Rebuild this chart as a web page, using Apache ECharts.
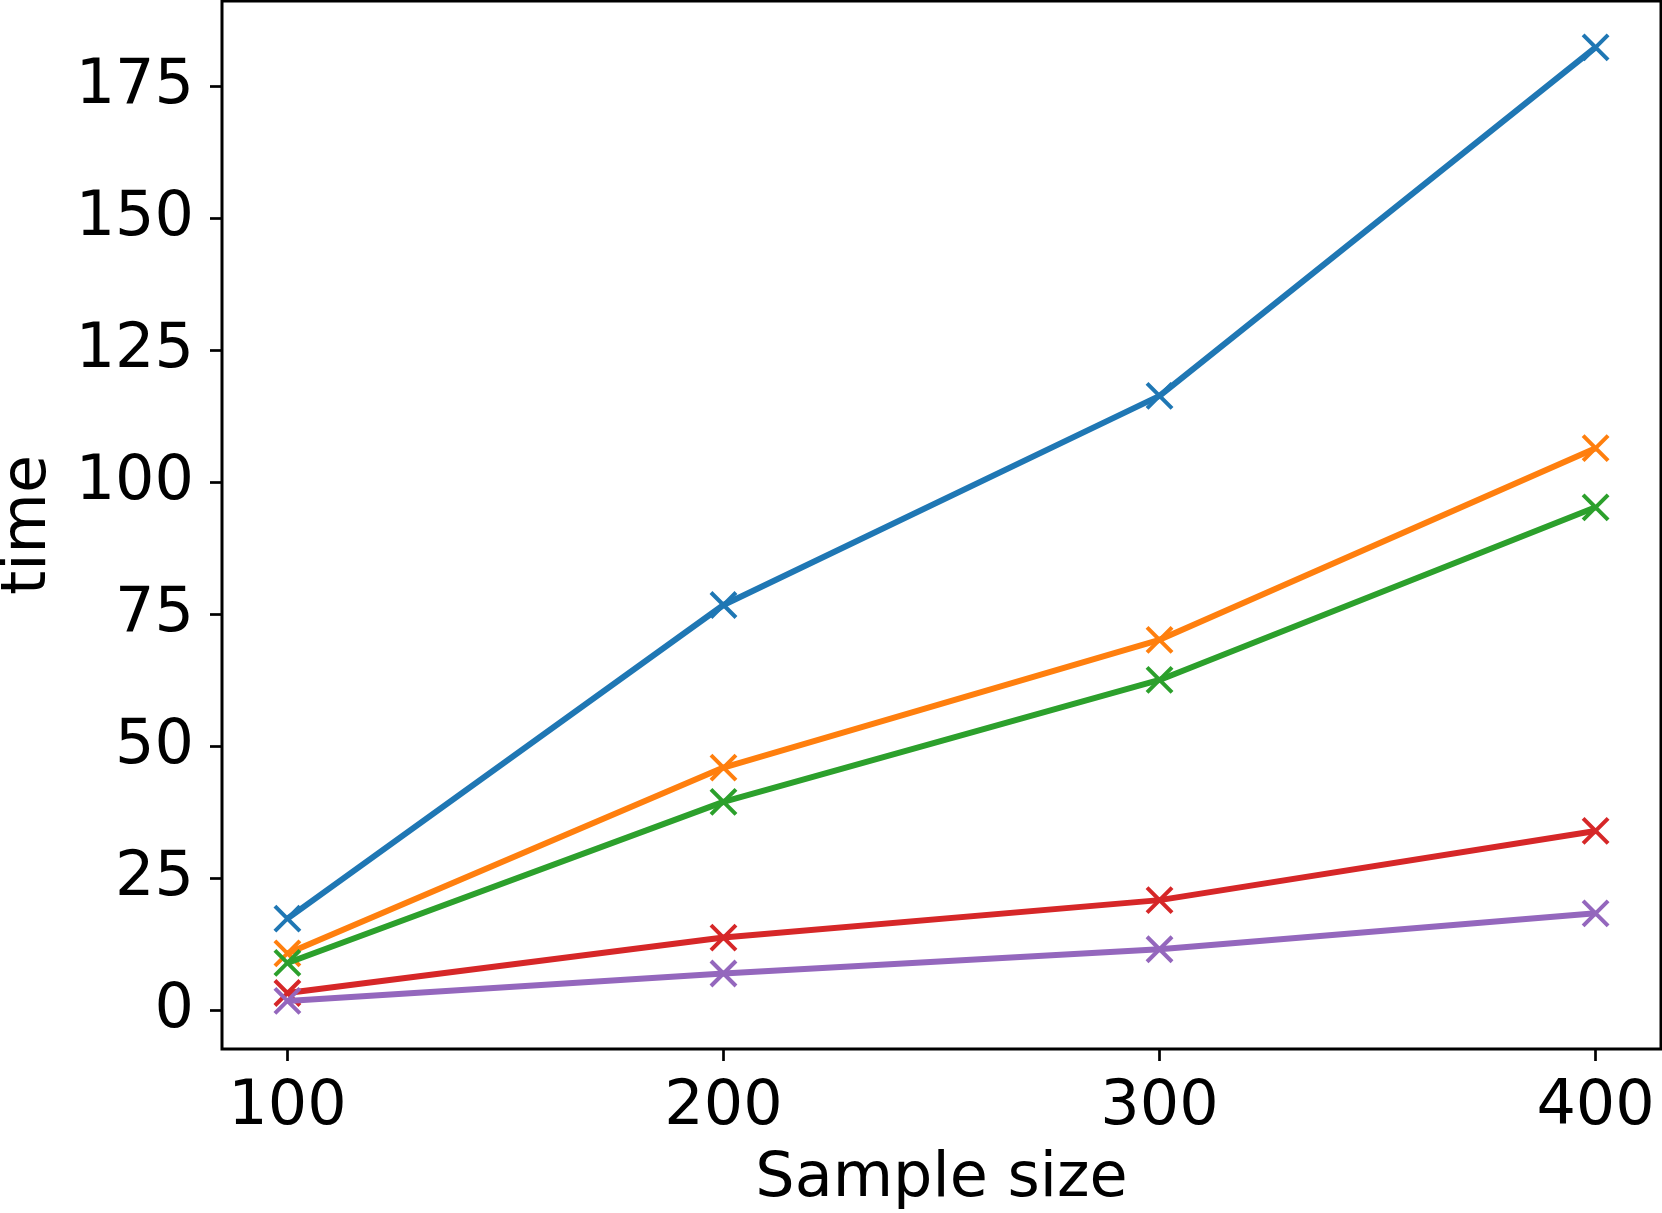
<!DOCTYPE html>
<html>
<head>
<meta charset="utf-8">
<script src="https://cdn.jsdelivr.net/npm/echarts@6/dist/echarts.min.js"></script>
<style>
html,body{margin:0;padding:0;background:#fff;}
#c{width:1662px;height:1213px;}
</style>
</head>
<body>
<div id="c"></div>
<script>
const sampleSizes = [100, 200, 300, 400];
const series1 = [17.4, 76.8, 116.4, 182.4];
const series2 = [10.8, 46.0, 70.2, 106.5];
const series3 = [9.0, 39.5, 62.6, 95.3];
const series4 = [3.3, 13.8, 20.9, 34.0];
const series5 = [1.8, 7.0, 11.6, 18.4];
const colors = ['#1f77b4', '#ff7f0e', '#2ca02c', '#d62728', '#9467bd'];
const yTicks = [0, 25, 50, 75, 100, 125, 150, 175];
const xTicks = [100, 200, 300, 400];

const allSeries = [series1, series2, series3, series4, series5];
const font = 'DejaVu Sans';

const chart = echarts.init(document.getElementById('c'), null, {renderer: 'canvas'});
chart.setOption({
  animation: false,
  backgroundColor: '#fff',
  grid: {left: 222, right: 1, top: 1, bottom: 164, show: true, borderColor: '#000', borderWidth: 3,
         backgroundColor: 'transparent', containLabel: false, outerBoundsMode: 'none'},
  xAxis: {
    type: 'value', min: 85, max: 415,
    name: 'Sample size', nameLocation: 'middle', nameGap: 100,
    nameTextStyle: {fontFamily: font, fontSize: 62, color: '#000'},
    axisLine: {show: false, onZero: false},
    splitLine: {show: false},
    axisTick: {show: true, length: 12, lineStyle: {color: '#000', width: 2.7}, customValues: xTicks},
    axisLabel: {fontFamily: font, fontSize: 62, color: '#000', margin: 28, customValues: xTicks}
  },
  yAxis: {
    type: 'value', min: -7.3, max: 191.2,
    name: 'time', nameLocation: 'middle', nameGap: 162, nameRotate: 90,
    nameTextStyle: {fontFamily: font, fontSize: 62, color: '#000'},
    axisLine: {show: false, onZero: false},
    splitLine: {show: false},
    axisTick: {show: true, length: 12, lineStyle: {color: '#000', width: 2.7}, customValues: yTicks},
    axisLabel: {fontFamily: font, fontSize: 62, color: '#000', margin: 28, customValues: yTicks}
  },
  series: allSeries.map((s, i) => ({
    type: 'line',
    data: sampleSizes.map((x, j) => [x, s[j]]),
    symbol: 'path://M0,0L10,10M10,0L0,10',
    symbolSize: 25,
    showSymbol: true,
    lineStyle: {color: colors[i], width: 6},
    itemStyle: {color: colors[i], borderColor: colors[i], borderWidth: 4},
    z: 2 + i
  }))
});
</script>
</body>
</html>
